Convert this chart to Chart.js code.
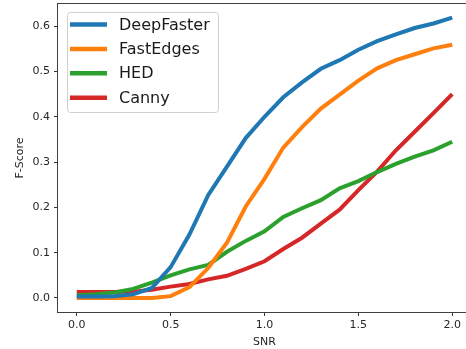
<!DOCTYPE html>
<html>
<head>
<meta charset="utf-8">
<script src="https://cdn.jsdelivr.net/npm/chart.js@4.4.1/dist/chart.umd.min.js"></script>
<style>
  html, body { margin: 0; padding: 0; overflow: hidden; background: #fff; }
  #wrap { position: relative; width: 480px; height: 349px; }
</style>
</head>
<body>
<div id="wrap"><canvas id="fscoreChart"></canvas></div>
<script>
// values
const snr = [0.0, 0.1, 0.2, 0.3, 0.4, 0.5, 0.6, 0.7, 0.8, 0.9, 1.0,
             1.1, 1.2, 1.3, 1.4, 1.5, 1.6, 1.7, 1.8, 1.9, 2.0];
const deepFaster = [0.003, 0.003, 0.004, 0.008, 0.022, 0.068, 0.140, 0.227, 0.290, 0.353, 0.400,
                    0.443, 0.476, 0.506, 0.525, 0.548, 0.567, 0.582, 0.596, 0.606, 0.619];
const fastEdges = [0.000, 0.000, 0.000, 0.000, 0.000, 0.004, 0.024, 0.066, 0.122, 0.202, 0.263,
                   0.332, 0.377, 0.418, 0.449, 0.480, 0.507, 0.525, 0.538, 0.551, 0.559];
const hed = [0.006, 0.008, 0.012, 0.020, 0.034, 0.050, 0.063, 0.073, 0.102, 0.126, 0.147,
             0.179, 0.198, 0.216, 0.242, 0.258, 0.278, 0.296, 0.312, 0.326, 0.345];
const canny = [0.013, 0.013, 0.013, 0.014, 0.018, 0.025, 0.031, 0.041, 0.049, 0.064, 0.081,
               0.108, 0.133, 0.164, 0.195, 0.238, 0.279, 0.326, 0.367, 0.408, 0.450];
const seriesNames = ['DeepFaster', 'FastEdges', 'HED', 'Canny'];
const seriesColors = ['#1f77b4', '#ff7f0e', '#2ca02c', '#d62728'];
const xTicks = [0.0, 0.5, 1.0, 1.5, 2.0];
const yTicks = [0.0, 0.1, 0.2, 0.3, 0.4, 0.5, 0.6];

const FONT = "'DejaVu Sans', sans-serif";

function toPoints(values) {
    return values.map((v, i) => ({ x: snr[i], y: v }));
}

// matplotlib style frame (all four spines)
const framePlugin = {
    id: 'frame',
    afterDraw(chart) {
        const { ctx, chartArea: a } = chart;
        ctx.save();
        ctx.strokeStyle = '#404040';
        ctx.lineWidth = 1;
        ctx.strokeRect(Math.round(a.left) - 0.5, Math.round(a.top) - 0.5,
                       Math.round(a.right - a.left) + 1, Math.round(a.bottom - a.top) + 1);
        ctx.restore();
    }
};

// legend box in the upper left corner of the plot
const boxLegend = {
    id: 'boxLegend',
    afterDraw(chart) {
        const { ctx, chartArea: a } = chart;
        const x = a.left + 9, y = a.top + 8, w = 151, h = 100;
        ctx.save();
        ctx.beginPath();
        ctx.roundRect(x + 0.5, y + 0.5, w, h, 3);
        ctx.fillStyle = 'rgba(255,255,255,0.8)';
        ctx.fill();
        ctx.strokeStyle = '#d0d0d0';
        ctx.lineWidth = 1;
        ctx.stroke();
        ctx.font = '16px ' + FONT;
        ctx.textBaseline = 'middle';
        chart.data.datasets.forEach((ds, i) => {
            const rowY = y + 12.5 + i * 24.4;
            ctx.strokeStyle = ds.borderColor;
            ctx.lineWidth = 4.5;
            ctx.lineCap = 'butt';
            ctx.beginPath();
            ctx.moveTo(x + 3, rowY);
            ctx.lineTo(x + 40, rowY);
            ctx.stroke();
            ctx.fillStyle = '#1a1a1a';
            ctx.fillText(ds.label, x + 52, rowY + 1);
        });
        ctx.restore();
    }
};

const allValues = [deepFaster, fastEdges, hed, canny];

new Chart(document.getElementById('fscoreChart'), {
    type: 'line',
    data: {
        datasets: allValues.map((vals, i) => ({
            label: seriesNames[i],
            data: toPoints(vals),
            borderColor: seriesColors[i],
            backgroundColor: seriesColors[i],
            borderWidth: 4,
            pointRadius: 0,
            tension: 0,
            fill: false
        }))
    },
    options: {
        responsive: true,
        maintainAspectRatio: false,
        animation: false,
        layout: { padding: { top: 4, right: 9, left: 0, bottom: 0 } },
        plugins: {
            legend: { display: false },
            tooltip: { enabled: false }
        },
        scales: {
            x: {
                type: 'linear',
                min: -0.1,
                max: 2.1,
                afterBuildTicks: scale => { scale.ticks = xTicks.map(v => ({ value: v })); },
                afterFit: scale => {
                    scale.height = 37;
                    scale.paddingLeft = 0;
                    scale.paddingRight = 0;
                },
                grid: { drawOnChartArea: false, drawTicks: true, tickLength: 4, color: '#333' },
                border: { display: false },
                ticks: {
                    padding: 3,
                    color: '#262626',
                    font: { family: FONT, size: 11 },
                    maxRotation: 0,
                    callback: v => v.toFixed(1)
                },
                title: {
                    display: true,
                    text: 'SNR',
                    color: '#262626',
                    font: { family: FONT, size: 11 },
                    padding: { top: 0, bottom: 0 }
                }
            },
            y: {
                min: -0.031,
                max: 0.649,
                afterBuildTicks: scale => { scale.ticks = yTicks.map(v => ({ value: v })); },
                afterFit: scale => {
                    scale.width = 58;
                    scale.paddingTop = 0;
                    scale.paddingBottom = 0;
                },
                grid: { drawOnChartArea: false, drawTicks: true, tickLength: 4, color: '#333' },
                border: { display: false },
                ticks: {
                    padding: 4,
                    color: '#262626',
                    font: { family: FONT, size: 11 },
                    callback: v => v.toFixed(1)
                },
                title: {
                    display: true,
                    text: 'F-Score',
                    color: '#262626',
                    font: { family: FONT, size: 11 },
                    padding: { top: 14, bottom: 0 }
                }
            }
        }
    },
    plugins: [framePlugin, boxLegend]
});
</script>
</body>
</html>
